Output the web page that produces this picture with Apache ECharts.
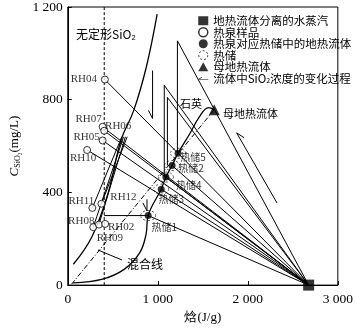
<!DOCTYPE html>
<html>
<head>
<meta charset="utf-8">
<script src="https://cdn.jsdelivr.net/npm/echarts@6/dist/echarts.min.js"></script>
<style>
  html, body { margin: 0; padding: 0; background: #fff; }
  #chart { width: 356px; height: 329px; }
</style>
</head>
<body>
<div id="chart"></div>
<script>
// tick labels
const xTickValues = [0, 1000, 2000, 3000];
const xTickText = ['0', '1 000', '2 000', '3 000'];
const yTickValues = [0, 400, 800, 1200];
const yTickText = ['0', '400', '800', '1 200'];

// points (enthalpy J/g, SiO2 mg/L)
const steam = [2676, 0];
const parentFluid = [1627, 757];
const sampleNames = ['RH04', 'RH07', 'RH06', 'RH05', 'RH10', 'RH11', 'RH12', 'RH08', 'RH09', 'RH02'];
const sampleH = [412, 387, 405, 387, 215, 273, 374, 283, 346, 415];
const sampleC = [887, 683, 666, 624, 583, 333, 351, 250, 261, 264];
const resNames = ['热储1', '热储3', '热储4', '热储2', '热储5'];
const resH = [893, 1038, 1090, 1159, 1225];
const resC = [300, 414, 466, 516, 569];

// curves
const amorphousCurve = [[62, 90], [270, 210], [450, 400], [592, 626], [733, 754], [872, 940], [993, 1169]];
const quartzCurve = [[59, 10], [387, 26], [630, 69], [800, 140], [870, 220], [893, 300], [1038, 414], [1090, 466], [1159, 516], [1225, 569], [1357, 654], [1460, 725], [1564, 766], [1627, 757]];
const mixLine = [[42, 4], [1627, 757]];
const amorphousH = 405;

// straight segments
const segments = [
  [[412, 887], steam], [[387, 683], steam], [[405, 666], steam], [[387, 624], steam], [[215, 583], steam],
  [[893, 300], steam], [[1038, 414], steam], [[1090, 466], steam], [[1159, 516], steam],
  [[1218, 1054], steam], [[1218, 1054], [1218, 569]],
  [[1072, 862], steam], [[1107, 810], steam],
  [[1072, 862], [1072, 466]], [[1107, 810], [1107, 516]],
  [[405, 300], [893, 300]],
  [[273, 333], [600, 640]], [[283, 250], [620, 640]], [[346, 261], [640, 640]], [[374, 351], [660, 640]]
];
// arrows [fromH, fromC, toH, toC]
const arrows = [
  [942, 926, 942, 719],
  [2325, 354, 1876, 657],
  [880, 370, 880, 320]
];

const labelOffsetsRH = {
  RH04: [-21, 0], RH07: [-14, -8], RH06: [14, -5], RH05: [-16, -3], RH10: [-4, 8],
  RH11: [-11, -7], RH12: [22, -7], RH08: [-12, -6], RH09: [11, 13], RH02: [16, 3]
};
const labelOffsetsRes = { '热储1': [16, 12], '热储3': [10, 10], '热储4': [23, 8], '热储2': [19, 3], '热储5': [15, 4] };

const CJK = '"Noto Sans CJK SC", sans-serif';
const SERIF = '"Liberation Serif", serif';

const chart = echarts.init(document.getElementById('chart'));

function lineSeries(data, extra) {
  return Object.assign({
    type: 'line', data: data, showSymbol: false, symbol: 'none', silent: true,
    lineStyle: { color: '#000', width: 1 }, animation: false, z: 2
  }, extra || {});
}

function renderArrow(params, api) {
  const p1 = api.coord([api.value(0), api.value(1)]);
  const p2 = api.coord([api.value(2), api.value(3)]);
  const ang = Math.atan2(p1[1] - p2[1], p1[0] - p2[0]) - 27 * Math.PI / 180;
  const L = 9;
  return {
    type: 'group',
    children: [
      { type: 'line', shape: { x1: p1[0], y1: p1[1], x2: p2[0], y2: p2[1] }, style: { stroke: '#000', lineWidth: 1 } },
      { type: 'line', shape: { x1: p2[0], y1: p2[1], x2: p2[0] + L * Math.cos(ang), y2: p2[1] + L * Math.sin(ang) }, style: { stroke: '#000', lineWidth: 1 } }
    ]
  };
}

const series = [];
segments.forEach(s => series.push(lineSeries(s)));
series.push(lineSeries(amorphousCurve, { smooth: 0.4, lineStyle: { color: '#000', width: 1.3 } }));
series.push(lineSeries(quartzCurve, { smooth: 0.4, lineStyle: { color: '#000', width: 1.3 } }));
series.push(lineSeries(mixLine, { lineStyle: { color: '#000', width: 1, type: [5, 2, 1, 2] } }));
series.push(lineSeries([[amorphousH, 0], [amorphousH, 1200]], { lineStyle: { color: '#000', width: 1, type: [3, 2] } }));

series.push({
  name: '流体中SiO₂浓度的变化过程', type: 'custom', renderItem: renderArrow,
  encode: { x: [0, 2], y: [1, 3] }, data: arrows, silent: true, z: 3,
  itemStyle: { color: '#000' }
});
series.push({
  name: '热储', type: 'scatter', symbol: 'circle', symbolSize: [15, 10], silent: true, z: 4,
  itemStyle: { color: 'rgba(0,0,0,0)', borderColor: '#000', borderWidth: 0.8, borderType: [2, 2] },
  data: resH.map((h, i) => [h, resC[i]])
});
series.push({
  name: '热泉对应热储中的地热流体', type: 'scatter', symbol: 'circle', symbolSize: 7, silent: true, z: 5,
  itemStyle: { color: '#000' },
  data: resH.map((h, i) => ({
    value: [h, resC[i]],
    label: { show: true, position: 'inside', offset: labelOffsetsRes[resNames[i]], formatter: resNames[i], color: '#000', fontSize: 10, fontFamily: CJK }
  }))
});
series.push({
  name: '热泉样品', type: 'scatter', symbol: 'circle', symbolSize: 7, silent: true, z: 5,
  itemStyle: { color: '#fff', borderColor: '#000', borderWidth: 1 },
  data: sampleH.map((h, i) => ({
    value: [h, sampleC[i]],
    label: { show: true, position: 'inside', offset: labelOffsetsRH[sampleNames[i]], formatter: sampleNames[i], color: '#000', fontSize: 11, fontFamily: SERIF }
  }))
});
series.push({
  name: '地热流体分离的水蒸汽', type: 'scatter', symbol: 'rect', symbolSize: 11, silent: true, z: 5,
  itemStyle: { color: '#000' }, data: [steam]
});
series.push({
  name: '母地热流体', type: 'scatter', symbol: 'triangle', symbolSize: 11, silent: true, z: 5,
  itemStyle: { color: '#000' }, data: [parentFluid]
});

const arrowIcon = 'path://M0,5.5 L20,5.5 L20,6.5 L0,6.5 Z M0.3,5.6 L7,1.5 L7.5,2.3 L0.9,6.4 Z';

chart.setOption({
  animation: false,
  backgroundColor: '#fff',
  grid: { left: 56, right: 11, top: 6, bottom: 43, show: true, borderColor: '#000', borderWidth: 1, backgroundColor: 'transparent' },
  xAxis: {
    type: 'value', min: 0, max: 3000, interval: 1000,
    name: '焓(J/g)', nameLocation: 'middle', nameGap: 25,
    nameTextStyle: { color: '#000', fontSize: 13, fontFamily: SERIF },
    axisLine: { lineStyle: { color: '#000' } },
    axisTick: { inside: true, length: 4, lineStyle: { color: '#000' } },
    axisLabel: { color: '#000', fontSize: 13.5, fontFamily: SERIF, margin: 7,
      formatter: v => xTickText[xTickValues.indexOf(v)] },
    splitLine: { show: false }
  },
  yAxis: {
    type: 'value', min: 0, max: 1200, interval: 400,
    name: '{i|C}{s|SiO₂}{n|(mg/L)}', nameLocation: 'middle', nameGap: 38,
    nameTextStyle: { color: '#000', rich: {
      i: { fontSize: 13, fontStyle: 'italic', fontFamily: SERIF, color: '#000' },
      s: { fontSize: 8, fontFamily: SERIF, color: '#000', verticalAlign: 'bottom', padding: [6, 0, 0, 0] },
      n: { fontSize: 13, fontFamily: SERIF, color: '#000' }
    } },
    axisLine: { lineStyle: { color: '#000' } },
    axisTick: { inside: true, length: 4, lineStyle: { color: '#000' } },
    axisLabel: { color: '#000', fontSize: 13.5, fontFamily: SERIF, margin: 5,
      formatter: v => yTickText[yTickValues.indexOf(v)] },
    splitLine: { show: false }
  },
  legend: {
    orient: 'vertical', left: 198, top: 15, itemGap: 0, itemWidth: 10, itemHeight: 9,
    selectedMode: false, padding: 0,
    textStyle: { fontSize: 11.5, lineHeight: 11.5, fontFamily: CJK, color: '#000',
      rich: { t: { fontSize: 11.5, fontFamily: CJK, color: '#000' }, s: { fontSize: 7, fontFamily: CJK, verticalAlign: 'bottom', padding: [5, 0, 0, 0], color: '#000' } } },
    formatter: name => name === '流体中SiO₂浓度的变化过程' ? '{t|流体中SiO}{s|2}{t|浓度的变化过程}' : name,
    data: [
      { name: '地热流体分离的水蒸汽', icon: 'rect', itemStyle: { color: '#000' } },
      { name: '热泉样品', icon: 'circle', itemStyle: { color: '#fff', borderColor: '#000', borderWidth: 1.5 } },
      { name: '热泉对应热储中的地热流体', icon: 'circle', itemStyle: { color: '#000' } },
      { name: '热储', icon: 'circle', itemStyle: { color: '#fff', borderColor: '#000', borderWidth: 1, borderType: [2, 2] } },
      { name: '母地热流体', icon: 'triangle', itemStyle: { color: '#000' } },
      { name: '流体中SiO₂浓度的变化过程', icon: arrowIcon, itemStyle: { color: '#000' } }
    ]
  },
  graphic: [
    { type: 'text', left: 76, top: 28, style: { text: '无定形SiO₂', fontSize: 12, fontFamily: CJK, fill: '#000' } },
    { type: 'text', left: 180, top: 98, style: { text: '石英', fontSize: 11, fontFamily: CJK, fill: '#000' } },
    { type: 'text', left: 223, top: 108, style: { text: '母地热流体', fontSize: 11, fontFamily: CJK, fill: '#000' } },
    { type: 'text', left: 127, top: 258, style: { text: '混合线', fontSize: 12, fontFamily: CJK, fill: '#000' } },
    { type: 'line', shape: { x1: 98, y1: 250, x2: 122, y2: 260 }, style: { stroke: '#000', lineWidth: 1 } }
  ],
  series: series
});
</script>
</body>
</html>
